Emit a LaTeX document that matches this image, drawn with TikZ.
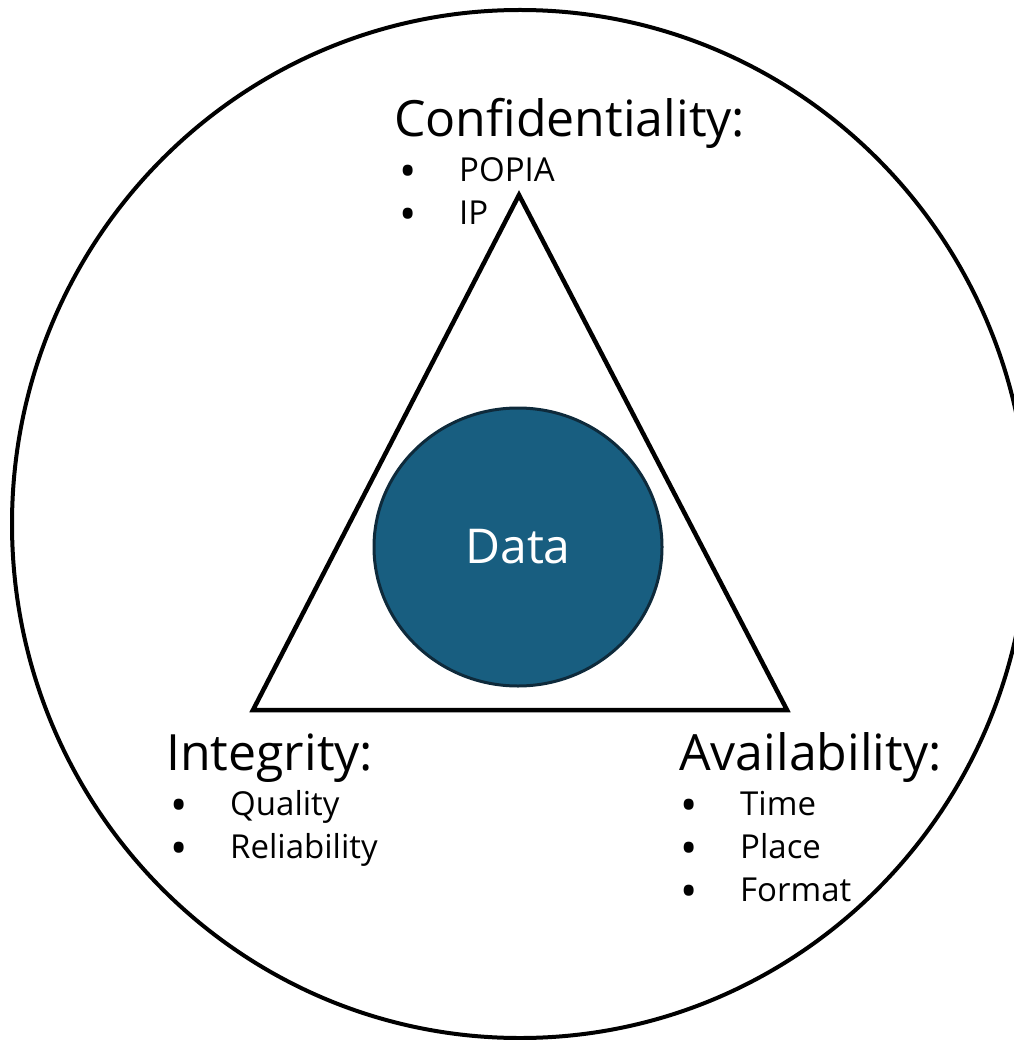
\documentclass[tikz,border=0pt]{standalone}
\usepackage{fontspec}
\setmainfont{Open Sans}
\usetikzlibrary{shapes.geometric}
\definecolor{datablue}{HTML}{185E80}
\definecolor{dataedge}{HTML}{0E2A3B}
\newcommand{\bul}{\makebox[60pt][l]{\raisebox{-6pt}{\fontsize{46}{43}\selectfont\textbullet}}}

\begin{document}
\begin{tikzpicture}[x=1pt, y=-1pt,
    heading/.style={anchor=base west, inner sep=0pt, font=\fontsize{50}{58}\selectfont},
    item/.style={anchor=base west, inner sep=0pt, font=\fontsize{33}{43}\selectfont}]
    % Page size
    \useasboundingbox (0,0) rectangle (1013,1040);

    % Outer circle
    \draw[line width=4pt] (520,524) ellipse [x radius=508, y radius=514];

    % Triangle
    \coordinate (top) at (519,195);
    \coordinate (left) at (253,710);
    \coordinate (right) at (787,710);
    \draw[line width=4.5pt, line join=miter] (top) -- (left) -- (right) -- cycle;

    % Data in the middle
    \node[ellipse, fill=datablue, draw=dataedge, line width=3pt,
          minimum width=288pt, minimum height=278pt, inner sep=0pt,
          text=white, font=\fontsize{48}{58}\selectfont] (data) at (518,547) {Data};

    % Headings
    \node[heading] (conf) at (394,137) {Confidentiality:};
    \node[heading] (integ) at (166,770) {Integrity:};
    \node[heading] (avail) at (679,770) {Availability:};

    % Bullet lists
    \foreach \t [count=\i] in {POPIA, IP}
      \node[item] (conf-\i) at (399,139+43*\i) {\bul\t};
    \foreach \t [count=\i] in {Quality, Reliability}
      \node[item] (integ-\i) at (170,772+43*\i) {\bul\t};
    \foreach \t [count=\i] in {Time, Place, Format}
      \node[item] (avail-\i) at (680,772+43*\i) {\bul\t};
\end{tikzpicture}
\end{document}
